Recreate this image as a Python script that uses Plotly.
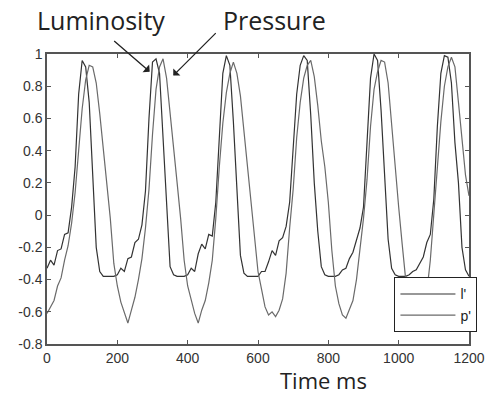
import plotly.graph_objects as go

# time samples (ms), 10 ms apart
time_ms = list(range(0, 1201, 10))

# l' : luminosity (leads)
lum = [
    -0.33, -0.28, -0.31, -0.22, -0.21, -0.12, -0.11, 0.05, 0.30, 0.75,
    0.96, 0.92, 0.70, 0.25, -0.20, -0.35, -0.38, -0.38, -0.38, -0.38,
    -0.37, -0.33, -0.35, -0.27, -0.26, -0.17, -0.15, -0.06, 0.15, 0.60,
    0.95, 0.97, 0.88, 0.50, 0.05, -0.32, -0.37, -0.38, -0.38, -0.38,
    -0.37, -0.33, -0.35, -0.24, -0.18, -0.21, -0.12, -0.13, 0.08, 0.48,
    0.88, 0.99, 0.93, 0.58, 0.15, -0.25, -0.36, -0.38, -0.38, -0.38,
    -0.38, -0.35, -0.35, -0.29, -0.22, -0.25, -0.16, -0.14, -0.07, 0.08,
    0.40, 0.75, 0.93, 0.99, 0.96, 0.62, 0.20, -0.10, -0.32, -0.37,
    -0.38, -0.38, -0.38, -0.37, -0.34, -0.33, -0.27, -0.23, -0.15, -0.08,
    0.05, 0.45, 0.85, 1.00, 0.96, 0.65, 0.22, -0.15, -0.33, -0.37,
    -0.38, -0.38, -0.38, -0.37, -0.35, -0.34, -0.30, -0.26, -0.17, -0.12,
    0.10, 0.55, 0.88, 0.99, 0.98, 0.82, 0.45, 0.20, -0.20, -0.34,
    -0.38,
]

# p' : pressure (lags)
pres = [
    -0.61, -0.57, -0.53, -0.44, -0.39, -0.28, -0.19, -0.05, 0.14, 0.40,
    0.66, 0.84, 0.93, 0.92, 0.82, 0.63, 0.40, 0.18, -0.02, -0.30,
    -0.44, -0.54, -0.61, -0.67, -0.59, -0.51, -0.40, -0.27, -0.08, 0.16,
    0.50, 0.78, 0.92, 0.97, 0.85, 0.62, 0.41, 0.20, -0.02, -0.28,
    -0.44, -0.52, -0.61, -0.67, -0.59, -0.53, -0.42, -0.28, -0.02, 0.30,
    0.57, 0.76, 0.88, 0.95, 0.88, 0.74, 0.52, 0.30, 0.05, -0.15,
    -0.35, -0.46, -0.57, -0.62, -0.60, -0.63, -0.59, -0.52, -0.36, -0.08,
    0.16, 0.48, 0.70, 0.85, 0.93, 0.96, 0.86, 0.68, 0.46, 0.30,
    0.08, -0.22, -0.44, -0.55, -0.62, -0.64, -0.59, -0.53, -0.40, -0.22,
    -0.02, 0.22, 0.55, 0.78, 0.89, 0.96, 0.95, 0.82, 0.55, 0.30,
    0.05, -0.18, -0.40, -0.50, -0.58, -0.63, -0.62, -0.58, -0.48, -0.28,
    0.00, 0.30, 0.58, 0.80, 0.92, 0.98, 0.92, 0.70, 0.48, 0.25,
    0.12,
]

x_ticks = [0, 200, 400, 600, 800, 1000, 1200]
y_ticks = [-0.8, -0.6, -0.4, -0.2, 0, 0.2, 0.4, 0.6, 0.8, 1]
y_tick_text = ["-0.8", "-0.6", "-0.4", "-0.2", "0", "0.2", "0.4", "0.6", "0.8", "1"]

fig = go.Figure()
fig.add_trace(go.Scatter(x=time_ms, y=lum, mode="lines", name="l'",
                         line=dict(color="#333333", width=1.2)))
fig.add_trace(go.Scatter(x=time_ms, y=pres, mode="lines", name="p'",
                         line=dict(color="#6a6a6a", width=1.2)))

axis_common = dict(showgrid=False, zeroline=False, showline=True,
                   linecolor="#555555", linewidth=1.5, mirror="ticks",
                   ticks="inside", ticklen=4, tickcolor="#555555",
                   tickfont=dict(family="Liberation Sans, Arial", size=14, color="#333333"))

fig.update_xaxes(range=[0, 1200], tickvals=x_ticks, **axis_common)
fig.update_yaxes(range=[-0.8, 1], tickvals=y_ticks, ticktext=y_tick_text, **axis_common)

ann_font = dict(family="Open Sans", size=25, color="#222222")
fig.add_annotation(x=292, y=0.89, xref="x", yref="y", text="",
                   showarrow=True, ax=-37, ay=-32, arrowhead=1, arrowsize=1.3,
                   arrowwidth=1.3, arrowcolor="#222222")
fig.add_annotation(x=359, y=0.866, xref="x", yref="y", text="",
                   showarrow=True, ax=44, ay=-44, arrowhead=1, arrowsize=1.3,
                   arrowwidth=1.3, arrowcolor="#222222")
fig.add_annotation(x=(103 - 47.5) / 430, y=(344 - 20) / 290, xref="paper", yref="paper",
                   text="Luminosity", showarrow=False, font=ann_font,
                   xanchor="center", yanchor="middle")
fig.add_annotation(x=(279 - 47.5) / 430, y=(344 - 20) / 290, xref="paper", yref="paper",
                   text="Pressure", showarrow=False, font=ann_font,
                   xanchor="center", yanchor="middle")
fig.add_annotation(x=(329 - 47.5) / 430, y=(344 - 380) / 290, xref="paper", yref="paper",
                   text="Time ms", showarrow=False,
                   font=dict(family="Open Sans", size=22, color="#222222"),
                   xanchor="center", yanchor="middle")

fig.update_layout(
    width=497, height=395,
    margin=dict(l=47, r=19, t=54, b=51),
    paper_bgcolor="white", plot_bgcolor="white",
    showlegend=True,
    legend=dict(x=1.02, y=0.04, xanchor="right", yanchor="bottom",
                bgcolor="white", bordercolor="#222222", borderwidth=1,
                font=dict(family="Liberation Sans, Arial", size=14, color="#222222"),
                tracegroupgap=0, itemwidth=55),
)

fig.write_html("out.html")
